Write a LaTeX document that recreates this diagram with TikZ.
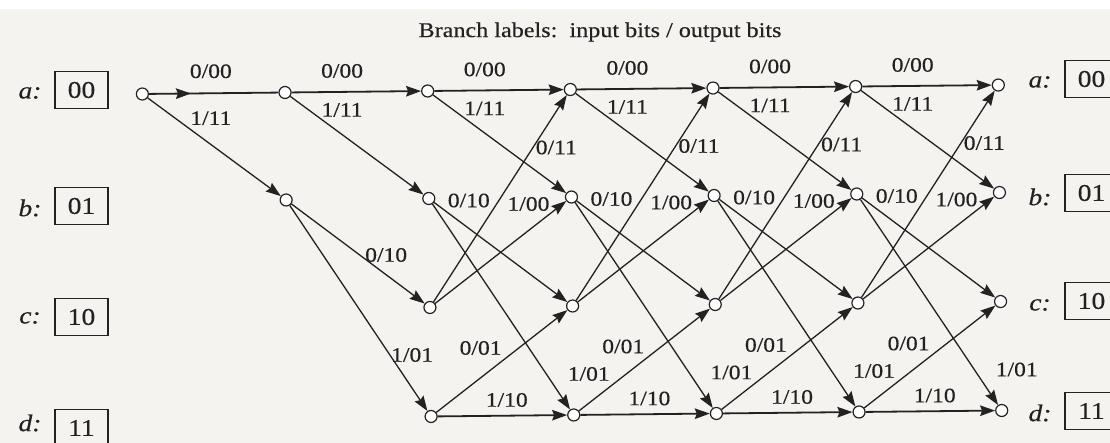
\documentclass[tikz,border=0pt]{standalone}
\usepackage{fontspec}
\setmainfont{Liberation Serif}[FakeStretch=1.15,FakeBold=0.4]
\usetikzlibrary{arrows.meta,calc,decorations.markings}
\definecolor{paper}{HTML}{F4F3EF}
\definecolor{ink}{HTML}{222222}

\begin{document}
\begin{tikzpicture}[x=1pt,y=-1pt,
  state/.style={circle,draw=ink,fill=white,line width=1.2pt,minimum size=12pt,inner sep=0pt},
  tip/.tip={Stealth[length=15pt,width=10.5pt,inset=2pt]},
  branch/.style={draw=ink,line width=1.3pt,-tip},
  flat/.style={branch,line width=1.8pt},
  lab/.style={font=\fontsize{20.5}{21}\selectfont,text=ink,inner sep=0pt},
  tag/.style={font=\fontsize{24}{24}\selectfont\itshape,text=ink,inner sep=0pt},
  regbox/.style={draw=ink,line width=1.3pt,minimum width=53pt,minimum height=37pt,
                 inner sep=0pt,font=\fontsize{24}{24}\selectfont,text=ink}]

% page and paper
\useasboundingbox (0,0) rectangle (1110,443);
\clip (0,0) rectangle (1110,443);
\fill[paper] (0,0) rectangle (1110,443);
\fill[white] (0,0) rectangle (1110,9);

% trellis states, one column per time step
\begin{scope}[rotate around={0.6:(572,250)}]
  \foreach \i in {0,...,6} {
    \pgfmathsetmacro{\xx}{144+142.67*\i}
    \node[state] (a\i) at (\xx,89.5) {};
  }
  \foreach \i in {1,...,6} {
    \pgfmathsetmacro{\xx}{144+142.67*\i}
    \node[state] (b\i) at (\xx,197) {};
  }
  \foreach \i in {2,...,6} {
    \pgfmathsetmacro{\xx}{144+142.67*\i}
    \node[state] (c\i) at (\xx,306) {};
    \node[state] (d\i) at (\xx,415) {};
  }
\end{scope}

% branches
\draw[ink,line width=1.8pt,postaction={decorate},
      decoration={markings,mark=at position 42pt with {\arrow{tip}}}] (a0) -- (a1);
\foreach \i [evaluate=\i as \j using int(\i+1)] in {1,...,5}
  \draw[flat] (a\i) -- (a\j);
\foreach \i [evaluate=\i as \j using int(\i+1)] in {0,...,5}
  \draw[branch] (a\i) -- (b\j);
\foreach \i [evaluate=\i as \j using int(\i+1)] in {1,...,5} {
  \draw[branch] (b\i) -- (c\j);
  \draw[branch] (b\i) -- (d\j);
}
\foreach \i [evaluate=\i as \j using int(\i+1)] in {2,...,5} {
  \draw[branch] (c\i) -- (a\j);
  \draw[branch] (c\i) -- (b\j);
  \draw[branch] (d\i) -- (c\j);
  \draw[flat] (d\i) -- (d\j);
}

% branch labels
\node[lab] (l000) at ($(a0)!0.48!(a1)+(0,-22)$) {0/00};
\node[lab] (l011) at ($(a0)!0.48!(a1)+(0,25)$) {1/11};
\foreach \i [evaluate=\i as \j using int(\i+1)] in {1,...,5} {
  \node[lab] (p\i) at ($(a\i)!0.4!(a\j)+(0,-21)$) {0/00};
  \node[lab] (q\i) at ($(a\i)!0.4!(a\j)+(0,18)$) {1/11};
}
\node[lab] (r1) at ($(b1)+(100,55)$) {0/10};
\node[lab] (s1) at ($(b1)+(126,155)$) {1/01};
\foreach \i in {2,...,5}
  \node[lab] (r\i) at ($(b\i)+(40,2)$) {0/10};
\foreach \j in {3,...,6} {
  \node[lab] (s\j) at ($(d\j)+(15,-41)$) {1/01};
  \node[lab] (u\j) at ($(b\j)+(-43,7)$) {1/00};
  \node[lab] (v\j) at ($(a\j)+(-14,58)$) {0/11};
  \node[lab] (w\j) at ($(c\j)+(-92,42)$) {0/01};
  \node[lab] (z\j) at ($(d\j)+(-67,-15)$) {1/10};
}

% caption
\node[font=\fontsize{21}{21}\selectfont,text=ink,inner sep=0pt] (title) at (600,32)
  {Branch labels:\ \ input bits / output bits};

% state registers, left
\node[tag] (ta) at (30,93) {a:};
\node[regbox] (ra) at (81.5,90) {00};
\node[tag] (tb) at (30,208) {b:};
\node[regbox] (rb) at (81.5,206) {01};
\node[tag] (tc) at (30,318) {c:};
\node[regbox] (rc) at (81.5,317) {10};
\node[tag] (td) at (30,423) {d:};
\node[regbox] (rd) at (81.5,428) {11};

% state registers, right
\node[tag] (ta2) at (1040,82) {a:};
\node[regbox] (ra2) at (1091.5,79) {00};
\node[tag] (tb2) at (1040,197) {b:};
\node[regbox] (rb2) at (1091.5,193) {01};
\node[tag] (tc2) at (1040,305) {c:};
\node[regbox] (rc2) at (1091.5,301) {10};
\node[tag] (td2) at (1040,413) {d:};
\node[regbox] (rd2) at (1091.5,411) {11};
\end{tikzpicture}
\end{document}
